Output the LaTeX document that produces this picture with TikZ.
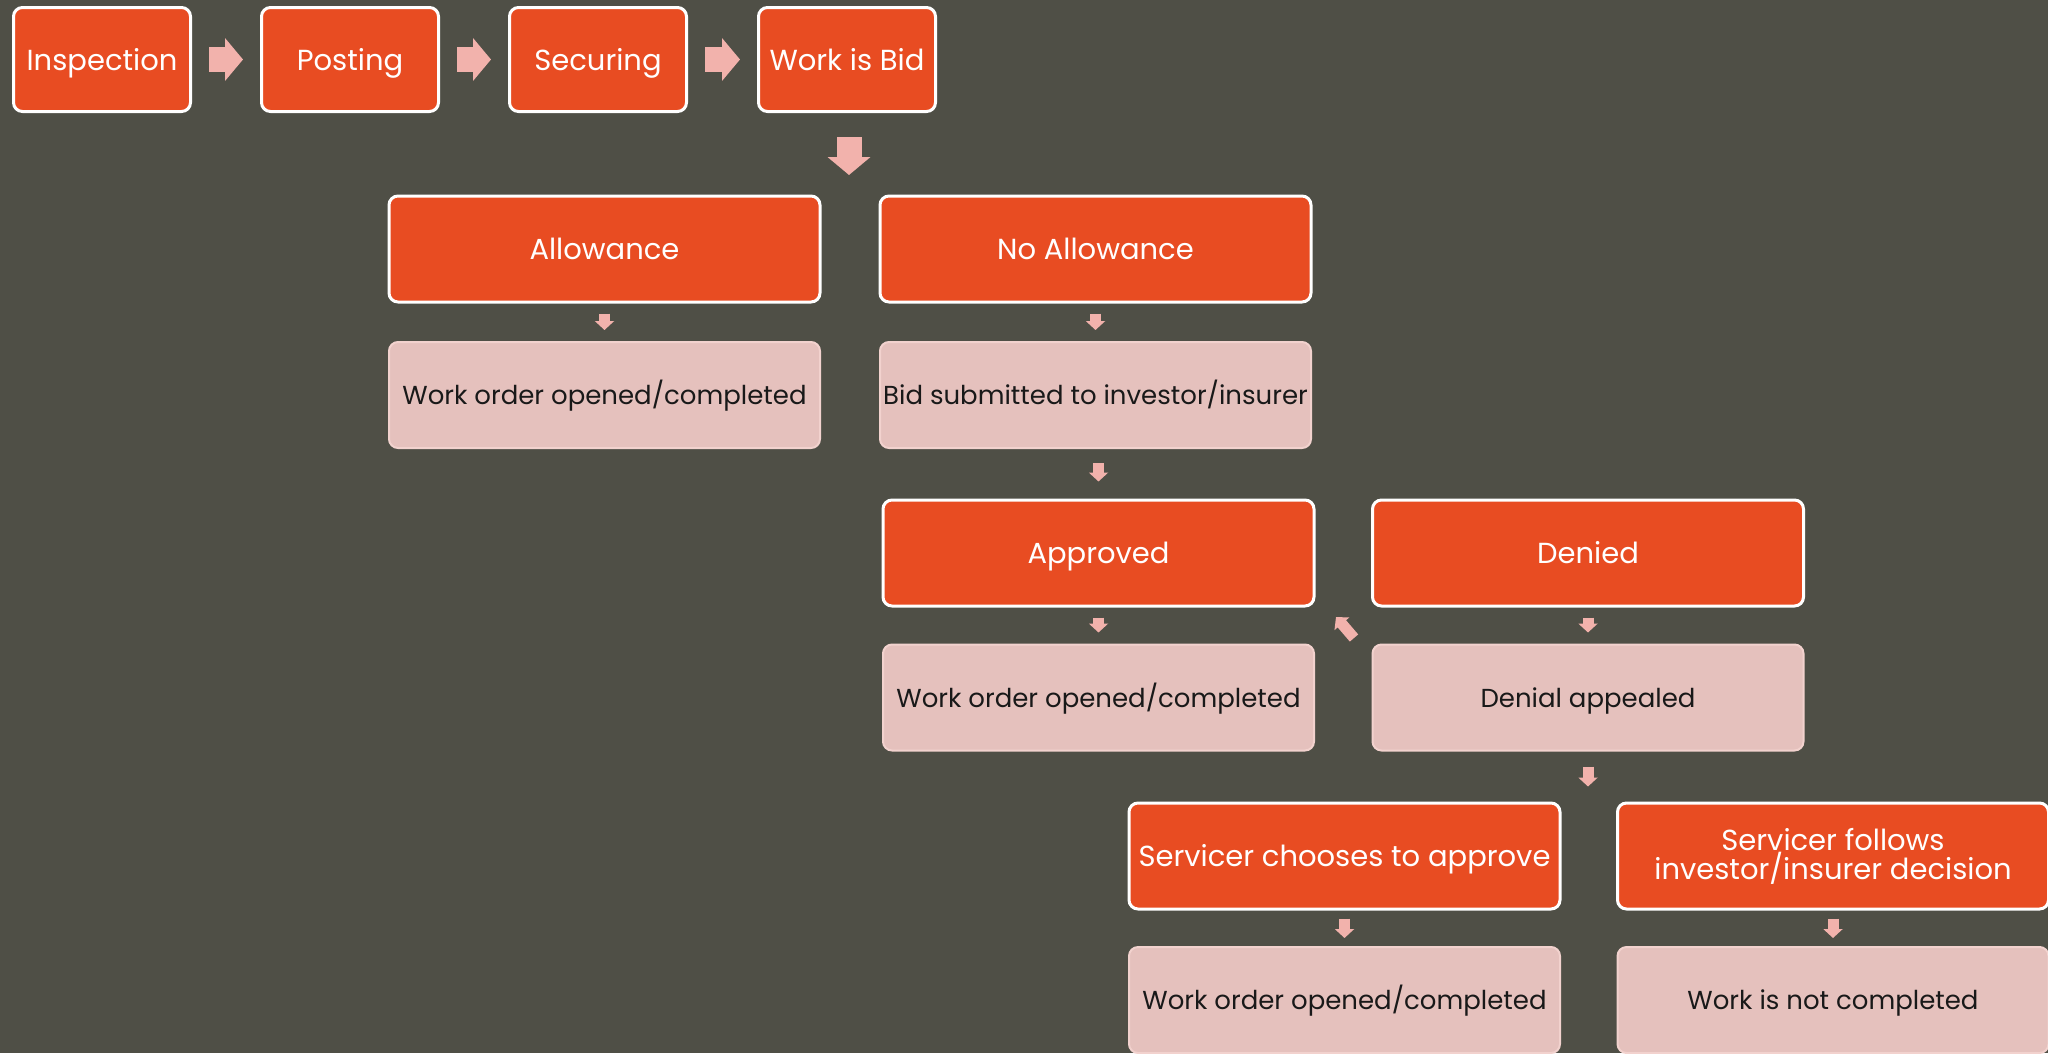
\documentclass[tikz,border=0pt]{standalone}
\usepackage{fontspec}
\setmainfont{Poppins}
\usepackage{tikz}
\usetikzlibrary{arrows.meta,positioning}
\definecolor{slate}{HTML}{4F4F46}
\definecolor{flame}{HTML}{E84C22}
\definecolor{blush}{HTML}{E5C1BD}
\definecolor{blushedge}{HTML}{F2D2CE}
\definecolor{tip}{HTML}{F2B2AC}

\tikzset{
  hot/.style={draw=white,line width=3pt,fill=flame,rounded corners=9pt,
    text=white,align=center,inner sep=2pt,
    text height=21pt,text depth=0pt,
    font=\fontsize{29}{29}\selectfont},
  cool/.style={draw=blushedge,line width=2pt,fill=blush,rounded corners=9pt,
    text=black!90,align=center,inner sep=2pt,
    text height=19pt,text depth=0pt,
    font=\fontsize{26}{28}\selectfont},
  bigarrow/.style={draw=tip,line width=25pt,-{Triangle[width=42pt,length=18pt]}},
  smallarrow/.style={draw=tip,line width=11pt,-{Triangle[width=19pt,length=9pt]}},
}

\begin{document}
\begin{tikzpicture}[x=1pt,y=-1pt]
    \fill[slate] (0,0) rectangle (2048,1053);
    \useasboundingbox (0,0) rectangle (2048,1053);
    \clip (0,0) rectangle (2048,1053);

    % first row
    \path[every node/.style={hot,minimum width=177pt,minimum height=104pt}]
    (102,59.5) node (insp) {Inspection}
    (350,59.5) node (post) {Posting}
    (598,59.5) node (secu) {Securing}
    (847,59.5) node (bid) {Work is Bid}
    ;
    \coordinate (split) at (849,195);

    % the tree
    \path[every node/.style={minimum width=431pt,minimum height=106pt}]
    (604.5,249) node[hot] (allow) {Allowance}
    (1095.5,249) node[hot] (noallow) {No Allowance}
    (604.5,395) node[cool] (orderA) {Work order opened/completed}
    (1095.5,395) node[cool] (submit) {Bid submitted to investor/insurer}
    (1098.5,553) node[hot] (approved) {Approved}
    (1588,553) node[hot] (denied) {Denied}
    (1098.5,697.5) node[cool] (orderB) {Work order opened/completed}
    (1588,697.5) node[cool] (appeal) {Denial appealed}
    (1344.5,856) node[hot] (override) {Servicer chooses to approve}
    (1833,856) node[hot,text height={},text depth={}] (follow) {Servicer follows\\investor/insurer decision}
    (1344.5,1000) node[cool] (orderC) {Work order opened/completed}
    (1833,1000) node[cool] (undone) {Work is not completed}
    ;
    \coordinate (strayA) at (1354,638);
    \coordinate (strayB) at (1336,617);

    \draw[bigarrow,shorten <=17pt,shorten >=17pt] (insp) -- (post);
    \draw[bigarrow,shorten <=17pt,shorten >=17pt] (post) -- (secu);
    \draw[bigarrow,shorten <=17pt,shorten >=17pt] (secu) -- (bid);
    \draw[bigarrow,shorten <=24pt,shorten >=20pt] (bid.south -| split) -- (split);

    \draw[smallarrow,shorten <=10pt,shorten >=11pt] (allow) -- (orderA);
    \draw[smallarrow,shorten <=10pt,shorten >=11pt] (noallow) -- (submit);
    \draw[smallarrow,shorten <=14pt,shorten >=17pt] (submit.south -| approved) -- (approved);
    \draw[smallarrow,shorten <=10pt,shorten >=11pt] (approved) -- (orderB);
    \draw[smallarrow,shorten <=10pt,shorten >=11pt] (denied) -- (appeal);
    \draw[smallarrow,shorten <=15pt,shorten >=15pt] (appeal.south) -- (appeal.south |- override.north);
    \draw[smallarrow,shorten <=8pt,shorten >=8pt] (override) -- (orderC);
    \draw[smallarrow,shorten <=8pt,shorten >=8pt] (follow) -- (undone);
    \draw[smallarrow] (strayA) -- (strayB);
\end{tikzpicture}
\end{document}
